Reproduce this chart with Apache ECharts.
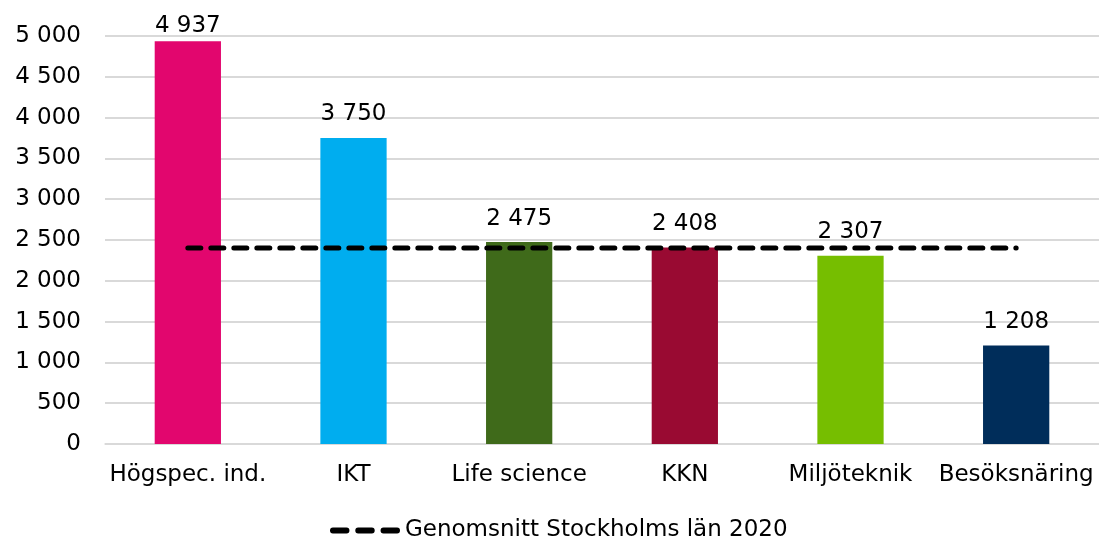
<!DOCTYPE html>
<html><head><meta charset="utf-8">
<script src="https://cdn.jsdelivr.net/npm/echarts@6/dist/echarts.min.js"></script>
<style>html,body{margin:0;padding:0;background:#fff}#c{width:1099px;height:538px}</style>
</head><body><div id="c"></div>
<script>
const categories = ['Högspec. ind.', 'IKT', 'Life science', 'KKN', 'Miljöteknik', 'Besöksnäring'];
const values = [4937, 3750, 2475, 2408, 2307, 1208];
const barColors = ['#E2066E', '#00ADEF', '#3F6A1A', '#990A32', '#76BE00', '#002D5A'];
const averageName = 'Genomsnitt Stockholms län 2020';
const averageValue = 2402;
const yTicks = [0, 500, 1000, 1500, 2000, 2500, 3000, 3500, 4000, 4500, 5000];

function fmt(v) { return String(v).replace(/\B(?=(\d{3})+(?!\d))/g, ' '); }
const font = 'DejaVu Sans, Verdana, sans-serif';
const fs = 23;

const chart = echarts.init(document.getElementById('c'));
chart.setOption({
  animation: false,
  textStyle: { fontFamily: font },
  grid: { left: 105, right: 0, top: 36, bottom: 94, containLabel: false },
  legend: {
    top: 514, left: 325,
    data: [{
      name: averageName,
      icon: 'path://M3,0h14a3,3 0 0 1 0,6h-14a3,3 0 0 1 0,-6z M29,0h14a3,3 0 0 1 0,6h-14a3,3 0 0 1 0,-6z M55,0h14a3,3 0 0 1 0,6h-14a3,3 0 0 1 0,-6z',
      itemStyle: { color: '#000' }
    }],
    itemWidth: 70, itemHeight: 6, itemGap: 5,
    textStyle: { fontFamily: font, fontSize: fs, color: '#000' }
  },
  xAxis: {
    type: 'category', data: categories,
    axisLine: { lineStyle: { color: '#d9d9d9', width: 1.5 } },
    axisTick: { show: false },
    axisLabel: { color: '#000', fontSize: fs, fontFamily: font, margin: 20, interval: 0 }
  },
  yAxis: {
    type: 'value', min: yTicks[0], max: yTicks[yTicks.length - 1], interval: 500,
    axisLine: { show: false }, axisTick: { show: false },
    splitLine: { lineStyle: { color: '#d9d9d9', width: 2 } },
    axisLabel: { color: '#000', fontSize: fs, fontFamily: font, margin: 24, formatter: fmt }
  },
  series: [
    {
      type: 'bar', name: 'Värde', barWidth: '40%',
      data: values.map((v, i) => ({
        value: v,
        itemStyle: { color: barColors[i] },
        label: { distance: i === 0 ? 4 : 12 }
      })),
      label: { show: true, position: 'top', distance: 12, color: '#000', fontSize: fs, fontFamily: font, formatter: p => fmt(p.value) }
    },
    {
      type: 'line', name: averageName, symbol: 'none',
      data: categories.map(() => averageValue),
      lineStyle: { color: '#000', width: 5, type: [13, 10], cap: 'round' },
      itemStyle: { color: '#000' },
      z: 5
    }
  ]
});
</script></body></html>
